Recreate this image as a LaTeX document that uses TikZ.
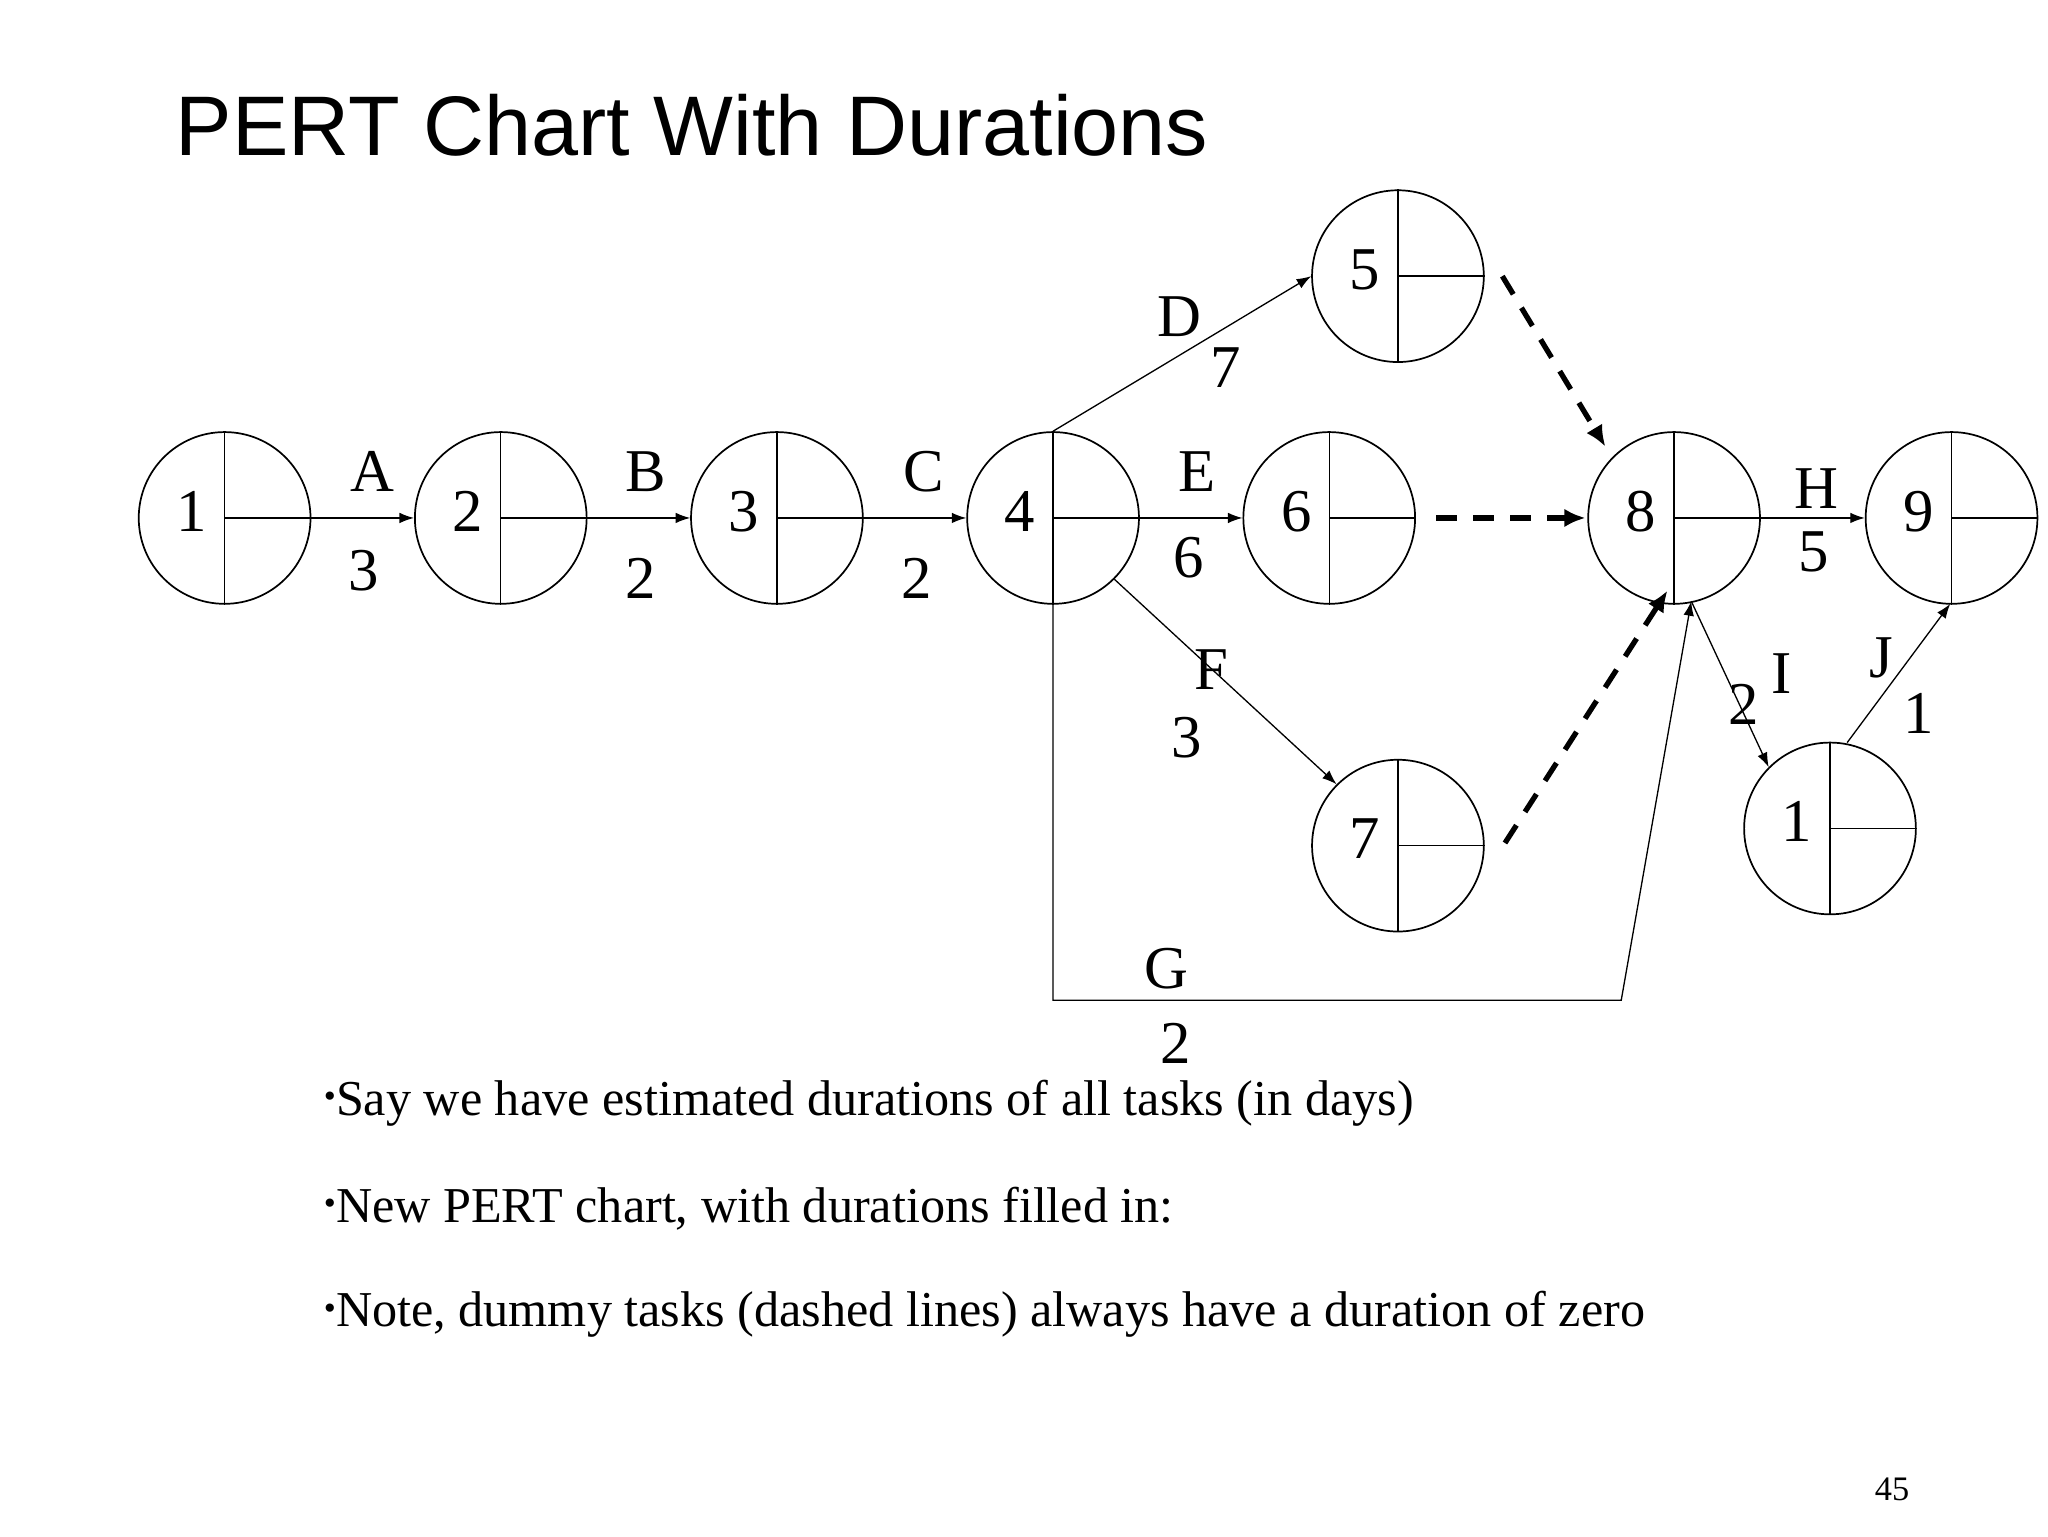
\documentclass[tikz,border=0pt]{standalone}
\usepackage{fontspec}
\setmainfont{Liberation Serif}
\newfontfamily\titlefont{Liberation Sans}
\usetikzlibrary{arrows.meta}
\begin{document}
\begin{tikzpicture}[x=1pt,y=-1pt,
  ev/.style={circle,draw,line width=1.3pt,minimum size=130pt,inner sep=0pt},
  arr/.style={line width=1pt,-{Latex[length=11pt,width=8pt]}},
  dum/.style={line width=4pt,dash pattern=on 16pt off 12pt,-{Latex[length=16pt,width=14pt]}},
  lab/.style={font=\fontsize{46}{46}\selectfont,inner sep=0pt}]
\useasboundingbox (0,0) rectangle (1550,1162.5);
\node[anchor=base west,inner sep=0pt,font=\titlefont\fontsize{64}{64}\selectfont] (title) at (133,118) {PERT Chart With Durations};
\foreach \n/\x/\y/\t in {n1/170/392/1,n2/379/392/2,n3/588/392/3,n4/797/392/4,n6/1006/392/6,n8/1267/392/8,n9/1477/392/9,n5/1058/209/5,n7/1058/640/7,n10/1385/627/1}{
  \node[ev] (\n) at (\x,\y) {};
  \draw[line width=1pt] (\n.north) -- (\n.south);
  \draw[line width=1pt] (\n.center) -- (\n.east);
  \node[lab] at ([xshift=-25pt,yshift=5pt]\n.center) {\t};
}
\draw[arr] (n1.center) -- (n2.west);
\draw[arr] (n2.center) -- (n3.west);
\draw[arr] (n3.center) -- (n4.west);
\draw[arr] (n4.center) -- (n6.west);
\draw[arr] (n8.center) -- (n9.west);
\draw[arr] (n4.north) -- (n5.west);
\draw[arr] (n4.-45) -- (n7.135);
\coordinate (g1) at (797,757); \coordinate (g2) at (1227,757);
\draw[arr] (n4.south) -- (g1) -- (g2) -- (1280,455);
\draw[dum] (1137,209) -- (1215,338);
\draw[dum] (1087,392) -- (1200,392);
\draw[dum] (1139,638) -- (1262,447);
\draw[arr] (1280,455) -- (n10.north west);
\draw[arr] (1398,562) -- (1476,457);
\foreach \t/\x/\y in {A/282/357,3/275/432,B/489/357,2/485/438,C/699/357,2/694/438,D/893/240,7/928/278,E/906/357,6/900/422,F/917/507,3/898/558,G/883/733,2/890/790,H/1375/370,5/1373/418,I/1348/510,2/1320/533,J/1424/498,1/1452/540}
  \node[lab] at (\x,\y) {\t};
\foreach \t/\y in {{Say we have estimated durations of all tasks (in days)}/835,{New PERT chart, with durations filled in:}/915,{Note, dummy tasks (dashed lines) always have a duration of zero}/995}
  \node[anchor=west,inner sep=0pt,font=\fontsize{38}{38}\selectfont] at (245,\y) {\raisebox{6pt}{\fontsize{26}{26}\selectfont\textbullet}\t};
\node[inner sep=0pt,font=\fontsize{26}{26}\selectfont] (pg) at (1432,1127) {45};
\end{tikzpicture}
\end{document}
